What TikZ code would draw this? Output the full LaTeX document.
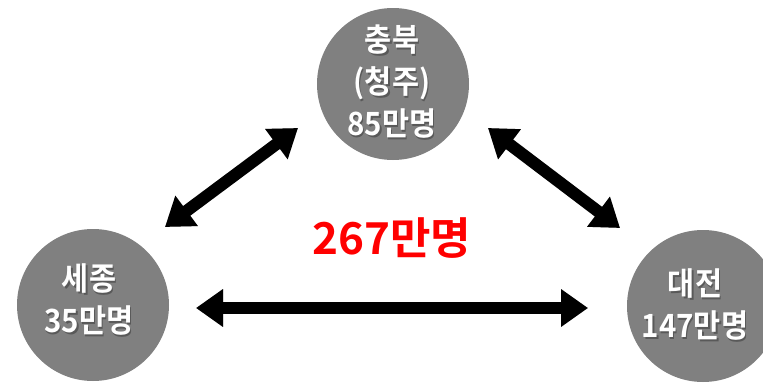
\documentclass[tikz,border=0pt]{standalone}
\usepackage{fontspec}
\newfontfamily\cjk{Noto Sans CJK KR}[BoldFont={Noto Sans CJK KR Bold}]
\newfontfamily\cjkm{Noto Sans CJK KR Bold}[FakeStretch=0.92]
\usetikzlibrary{arrows.meta}
\tikzset{
  city/.style={circle, fill=cityfill, minimum size=152pt, inner sep=0pt},
  citytext/.style={text=white, align=center, inner sep=0pt,
    font=\cjkm\fontsize{32}{42}\selectfont},
  citytextshadow/.style={citytext, text=black!65},
  dblarrow/.style={line width=12pt, {Triangle[width=36pt,length=27pt]}-{Triangle[width=36pt,length=27pt]}},
  arrowshadow/.style={dblarrow, draw=black!25},
}
\definecolor{cityfill}{HTML}{808080}
\definecolor{totalred}{HTML}{FF0000}
\begin{document}
\begin{tikzpicture}[x=1pt,y=-1pt]
\useasboundingbox (0,0) rectangle (763,383);
\fill[white] (0,0) rectangle (763,383);
% circles
\node[city] (cb) at (393,84) {};
\node[city] (sj) at (93,305) {};
\node[city] (dj) at (703,306) {};
% texts with shadow
\node[citytextshadow] at (393.2,83.2) {충북\\(청주)\\85만명};
\node[citytext] (cbt) at (392,82) {충북\\(청주)\\85만명};
\node[citytextshadow] at (90.2,301.2) {세종\\35만명};
\node[citytext] (sjt) at (89,300) {세종\\35만명};
\node[citytextshadow] at (696.2,306.2) {대전\\147만명};
\node[citytext] (djt) at (695,305) {대전\\147만명};
% arrow ends
\coordinate (a1) at (165,227); \coordinate (a2) at (298,128);
\coordinate (b1) at (488,128); \coordinate (b2) at (620,228);
\coordinate (c1) at (196,308); \coordinate (c2) at (588,308);
% shadows
\begin{scope}[shift={(4,4)}]
\draw[arrowshadow] (a1) -- (a2);
\draw[arrowshadow] (b1) -- (b2);
\draw[arrowshadow] (c1) -- (c2);
\end{scope}
\draw[dblarrow] (a1) -- (a2);
\draw[dblarrow] (b1) -- (b2);
\draw[dblarrow] (c1) -- (c2);
% total
\node[text=totalred, font=\cjk\bfseries\fontsize{44}{50}\selectfont] (total) at (392,238) {267만명};
\end{tikzpicture}
\end{document}
